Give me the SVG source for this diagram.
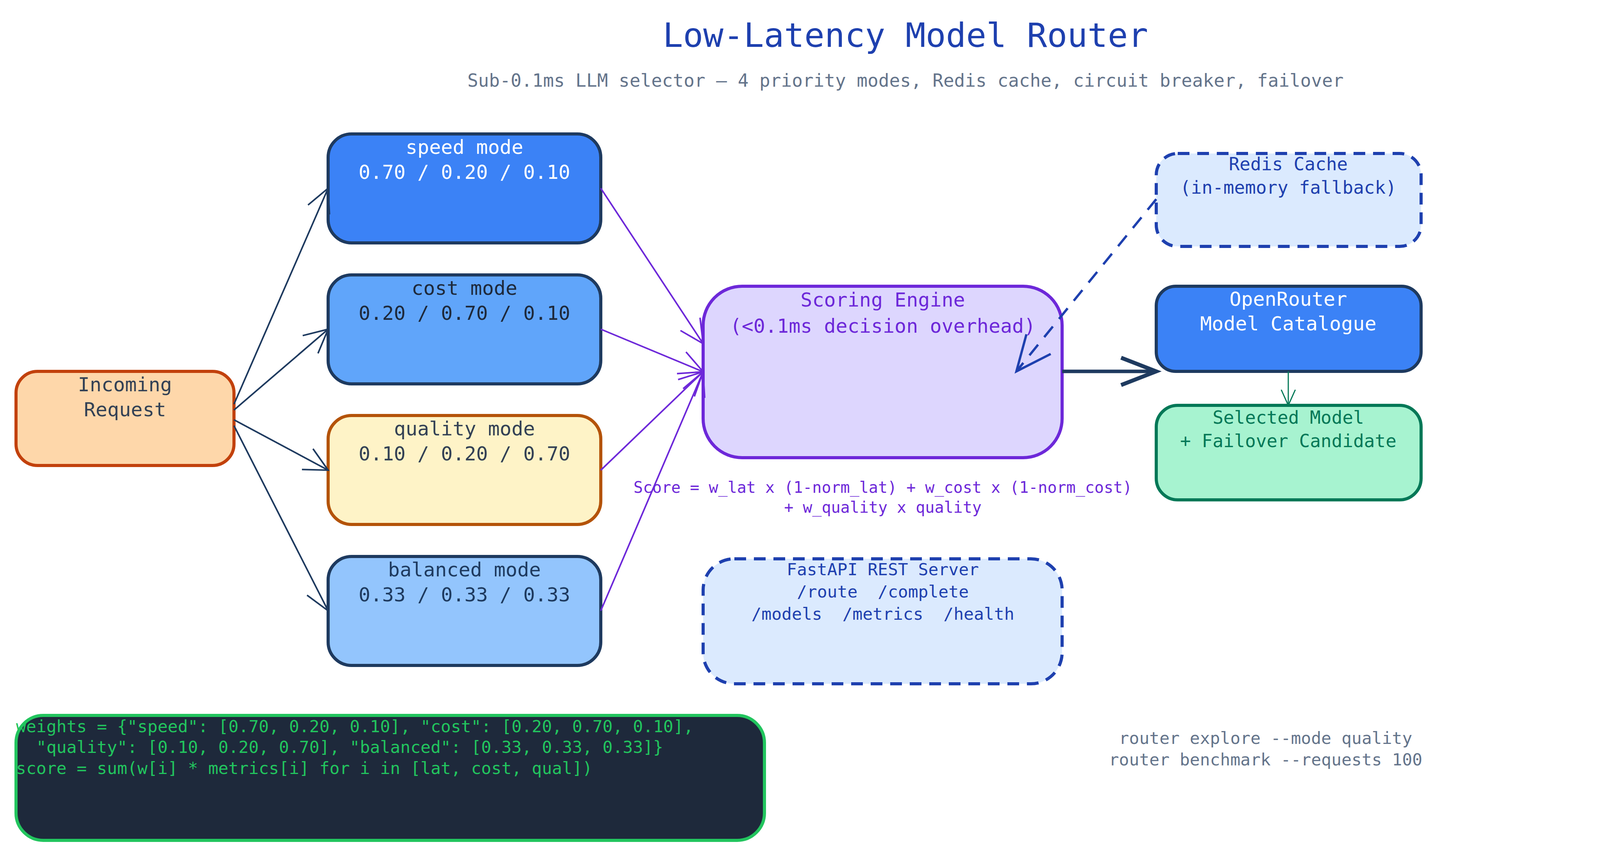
<svg xmlns="http://www.w3.org/2000/svg" width="4560" height="2192" viewBox="0 0 4560 2192">
<style>
text{font-family:"DejaVu Sans Mono","Liberation Mono",monospace;text-anchor:middle;white-space:pre}
.n{font-size:50px}
.box{stroke-width:8}
.c{fill:none;stroke-width:4}
</style>
<defs>
<marker id="ad" markerUnits="userSpaceOnUse" markerWidth="80" markerHeight="80" refX="70" refY="40" orient="auto"><path d="M10,10 L70,40 L10,70" fill="none" stroke="#1e3a5f" stroke-width="4"/></marker>
<marker id="ap" markerUnits="userSpaceOnUse" markerWidth="80" markerHeight="80" refX="70" refY="40" orient="auto"><path d="M10,10 L70,40 L10,70" fill="none" stroke="#6d28d9" stroke-width="4"/></marker>
<marker id="ab" markerUnits="userSpaceOnUse" markerWidth="120" markerHeight="120" refX="100" refY="60" orient="auto"><path d="M10,20 L100,60 L10,100" fill="none" stroke="#1e40af" stroke-width="6"/></marker>
<marker id="ak" markerUnits="userSpaceOnUse" markerWidth="120" markerHeight="120" refX="100" refY="60" orient="auto"><path d="M10,25 L100,60 L10,95" fill="none" stroke="#1e3a5f" stroke-width="10"/></marker>
<marker id="ag" markerUnits="userSpaceOnUse" markerWidth="60" markerHeight="60" refX="50" refY="30" orient="auto"><path d="M10,12 L50,30 L10,48" fill="none" stroke="#047857" stroke-width="3"/></marker>
</defs>
<rect width="4560" height="2192" fill="#fff"/>
<text x="2318" y="120" font-size="86" fill="#1e40af">Low-Latency Model Router</text>
<text x="2318" y="222" font-size="46" fill="#64748b">Sub-0.1ms LLM selector — 4 priority modes, Redis cache, circuit breaker, failover</text>
<g id="incoming"><rect class="box" x="41" y="951" width="558" height="241" rx="55" fill="#fed7aa" stroke="#c2410c"/>
<text class="n" x="320" y="1002" fill="#334155">Incoming</text><text class="n" x="320" y="1066" fill="#334155">Request</text></g>
<g id="speed"><rect class="box" x="840" y="343" width="698" height="279" rx="60" fill="#3b82f6" stroke="#1e3a5f"/>
<text class="n" x="1189" y="394" fill="#fff">speed mode</text><text class="n" x="1189" y="458" fill="#fff">0.70 / 0.20 / 0.10</text></g>
<g id="cost"><rect class="box" x="840" y="704" width="698" height="279" rx="60" fill="#60a5fa" stroke="#1e3a5f"/>
<text class="n" x="1189" y="755" fill="#1e293b">cost mode</text><text class="n" x="1189" y="819" fill="#1e293b">0.20 / 0.70 / 0.10</text></g>
<g id="quality"><rect class="box" x="840" y="1064" width="698" height="279" rx="60" fill="#fef3c7" stroke="#b45309"/>
<text class="n" x="1189" y="1115" fill="#334155">quality mode</text><text class="n" x="1189" y="1179" fill="#334155">0.10 / 0.20 / 0.70</text></g>
<g id="balanced"><rect class="box" x="840" y="1425" width="698" height="279" rx="60" fill="#93c5fd" stroke="#1e3a5f"/>
<text class="n" x="1189" y="1476" fill="#1e3a5f">balanced mode</text><text class="n" x="1189" y="1540" fill="#1e3a5f">0.33 / 0.33 / 0.33</text></g>
<g id="scoring"><rect class="box" x="1800" y="733" width="919" height="439" rx="100" fill="#ddd6fe" stroke="#6d28d9"/>
<text class="n" x="2260" y="785" fill="#6d28d9">Scoring Engine</text><text class="n" x="2260" y="852" fill="#6d28d9">(&lt;0.1ms decision overhead)</text></g>
<text x="2260" y="1262" font-size="40" fill="#6d28d9">Score = w_lat x (1-norm_lat) + w_cost x (1-norm_cost)</text>
<text x="2260" y="1313" font-size="40" fill="#6d28d9">+ w_quality x quality</text>
<g id="redis"><rect class="box" x="2960" y="393" width="678" height="238" rx="55" fill="#dbeafe" stroke="#1e40af" stroke-dasharray="30,20"/>
<text x="3298" y="436" font-size="46" fill="#1e40af">Redis Cache</text><text x="3298" y="496" font-size="46" fill="#1e40af">(in-memory fallback)</text></g>
<g id="openrouter"><rect class="box" x="2960" y="733" width="678" height="218" rx="50" fill="#3b82f6" stroke="#1e3a5f"/>
<text class="n" x="3298" y="783" fill="#fff">OpenRouter</text><text class="n" x="3298" y="846" fill="#fff">Model Catalogue</text></g>
<g id="selected"><rect class="box" x="2960" y="1038" width="678" height="242" rx="55" fill="#a7f3d0" stroke="#047857"/>
<text x="3298" y="1085" font-size="46" fill="#047857">Selected Model</text><text x="3298" y="1145" font-size="46" fill="#047857">+ Failover Candidate</text></g>
<g id="fastapi"><rect class="box" x="1800" y="1431" width="919" height="320" rx="80" fill="#dbeafe" stroke="#1e40af" stroke-dasharray="30,20"/>
<text x="2260" y="1473" font-size="43" fill="#1e40af">FastAPI REST Server</text>
<text x="2260" y="1530" font-size="43" fill="#1e40af">/route  /complete</text>
<text x="2260" y="1587" font-size="43" fill="#1e40af">/models  /metrics  /health</text></g>
<g id="code"><rect class="box" x="41" y="1832" width="1916" height="320" rx="70" fill="#1e293b" stroke="#22c55e"/>
<text x="41" y="1875" font-size="43" fill="#22c55e" style="text-anchor:start">weights = {"speed": [0.70, 0.20, 0.10], "cost": [0.20, 0.70, 0.10],</text>
<text x="41" y="1928" font-size="43" fill="#22c55e" style="text-anchor:start">  "quality": [0.10, 0.20, 0.70], "balanced": [0.33, 0.33, 0.33]}</text>
<text x="41" y="1982" font-size="43" fill="#22c55e" style="text-anchor:start">score = sum(w[i] * metrics[i] for i in [lat, cost, qual])</text></g>
<text x="3240" y="1905" font-size="43" fill="#64748b">router explore --mode quality</text>
<text x="3240" y="1960" font-size="43" fill="#64748b">router benchmark --requests 100</text>
<g id="connectors">
<line class="c" x1="599" y1="1035" x2="840" y2="482" stroke="#1e3a5f" marker-end="url(#ad)"/>
<line class="c" x1="599" y1="1050" x2="840" y2="843" stroke="#1e3a5f" marker-end="url(#ad)"/>
<line class="c" x1="599" y1="1075" x2="840" y2="1204" stroke="#1e3a5f" marker-end="url(#ad)"/>
<line class="c" x1="599" y1="1090" x2="840" y2="1564" stroke="#1e3a5f" marker-end="url(#ad)"/>
<line class="c" x1="1538" y1="482" x2="1800" y2="880" stroke="#6d28d9" marker-end="url(#ap)"/>
<line class="c" x1="1538" y1="843" x2="1800" y2="952" stroke="#6d28d9" marker-end="url(#ap)"/>
<line class="c" x1="1538" y1="1204" x2="1800" y2="952" stroke="#6d28d9" marker-end="url(#ap)"/>
<line class="c" x1="1538" y1="1564" x2="1800" y2="952" stroke="#6d28d9" marker-end="url(#ap)"/>
<line class="c" x1="2719" y1="951" x2="2960" y2="951" stroke="#1e3a5f" style="stroke-width:9" marker-end="url(#ak)"/>
<line class="c" x1="2960" y1="510" x2="2602" y2="951" stroke="#1e40af" style="stroke-width:6" stroke-dasharray="35,25" marker-end="url(#ab)"/>
<line class="c" x1="3298" y1="951" x2="3298" y2="1038" stroke="#047857" style="stroke-width:3" marker-end="url(#ag)"/>
</g>
</svg>
